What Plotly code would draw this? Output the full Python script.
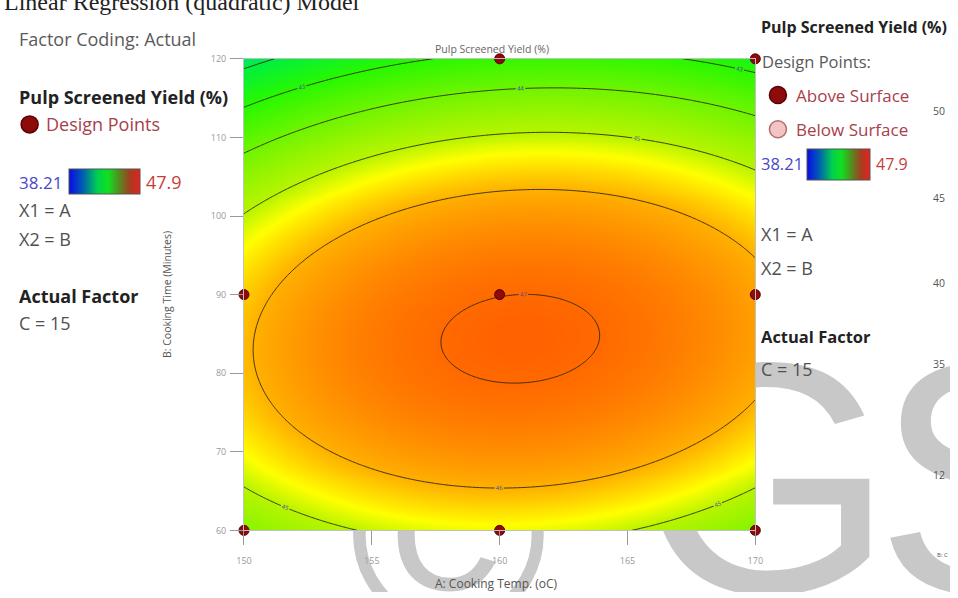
import numpy as np
import plotly.graph_objects as go

# ---------------- values ----------------
temp_ticks = [150, 155, 160, 165, 170]            # A: Cooking Temp. (oC)
time_ticks = [60, 70, 80, 90, 100, 110, 120]      # B: Cooking Time (Minutes)
# quadratic response surface (coded units) at C = 15
coef_names = ["Intercept", "A", "B", "AB", "A^2", "B^2"]
coef_values = [46.99, 0.21, -1.05, 0.25, -1.01, -2.75]
temp_center, temp_step = 160, 10
time_center, time_step = 90, 30
contour_levels = [42, 43, 44, 45, 46, 47]
design_temp = [150, 160, 170, 150, 160, 170, 160, 170]
design_time = [60, 60, 60, 90, 90, 90, 120, 120]
yield_low, yield_high = 38.21, 47.9
neighbour_ticks = ["50", "45", "40", "35", "12"]

W, H = 958, 598
PX0, PX1, PY0, PY1 = 240, 760, 53, 535   # plot frame in page pixels

def px(x):
    return x / W

def py(y):
    return 1 - y / H

# colour map of the surface (value -> colour)
surface_colors = [
    [0.000, "#0000ff"],
    [0.200, "#0080c0"],
    [0.339, "#00e080"],
    [0.391, "#00f040"],
    [0.494, "#28f800"],
    [0.598, "#70f400"],
    [0.701, "#b8f400"],
    [0.742, "#ffff00"],
    [0.804, "#ffb000"],
    [0.856, "#ff8c00"],
    [0.907, "#ff6a00"],
    [1.000, "#ff2000"],
]
# colour ramp as drawn in the legend boxes
legend_colors = [
    [0.00, "#0a0ae8"],
    [0.20, "#0060b0"],
    [0.40, "#00d050"],
    [0.55, "#10e020"],
    [0.70, "#509020"],
    [0.85, "#a04020"],
    [1.00, "#e82020"],
]

# ---------------- surface ----------------
c = dict(zip(coef_names, coef_values))
A = np.linspace(temp_ticks[0], temp_ticks[-1], 201)
B = np.linspace(time_ticks[0], time_ticks[-1], 241)
AA, BB = np.meshgrid(A, B)
a = (AA - temp_center) / temp_step
b = (BB - time_center) / time_step
Z = (c["Intercept"] + c["A"] * a + c["B"] * b + c["AB"] * a * b
     + c["A^2"] * a ** 2 + c["B^2"] * b ** 2)

fig = go.Figure()

# ---- background (page-pixel) layer: watermark, beneath the plot, clipped to the page ----
fig.add_trace(go.Scatter(
    x=[448, 640, 882], y=[566, 514, 514], mode="text", text=["©", "G", "S"],
    textposition=["middle center", "middle right", "middle right"],
    textfont=dict(size=[270, 330, 330], color="#c8c8c8", family="Liberation Sans"),
    hoverinfo="skip", showlegend=False, xaxis="x", yaxis="y", cliponaxis=True))

# legend markers
fig.add_trace(go.Scatter(
    x=[22, 783, 783], y=[120, 90, 125], mode="markers",
    marker=dict(size=17, color=["#8e0b0b", "#8e0b0b", "#f4c4c4"],
                line=dict(color=["#5a0000", "#5a0000", "#b07070"], width=1.5)),
    hoverinfo="skip", showlegend=False, xaxis="x", yaxis="y"))

# two colour ramps in the legend panels
for cx, cy, ln, th in [(62, 166, 71, 25), (813, 145, 63, 31)]:
    fig.add_trace(go.Scatter(
        x=[100, 100], y=[100, 100], mode="markers",
        marker=dict(size=0, opacity=0, color=[yield_low, yield_high],
                    colorscale=legend_colors, cmin=yield_low, cmax=yield_high,
                    showscale=True,
                    colorbar=dict(orientation="h", x=px(cx), y=py(cy),
                                  xanchor="left", yanchor="top",
                                  len=ln, lenmode="pixels", thickness=th,
                                  xpad=0, ypad=0, outlinewidth=1,
                                  outlinecolor="#555", showticklabels=False,
                                  ticks="")),
        hoverinfo="skip", showlegend=False, xaxis="x", yaxis="y"))

# ---- main contour plot ----
fig.add_trace(go.Contour(
    x=A, y=B, z=Z, xaxis="x2", yaxis="y2",
    colorscale=surface_colors, zmin=yield_low, zmax=yield_high, showscale=False,
    contours=dict(start=contour_levels[0], end=contour_levels[-1], size=1,
                  coloring="heatmap", showlabels=True,
                  labelfont=dict(size=6, color="#4a4aa0")),
    line=dict(color="rgba(50,40,15,0.9)", width=1),
    hoverinfo="skip"))

fig.add_trace(go.Scatter(
    x=design_temp, y=design_time, mode="markers", xaxis="x2", yaxis="y2",
    marker=dict(size=10, color="#8e0b0b", line=dict(color="#5a0000", width=1)),
    cliponaxis=False, hoverinfo="skip", showlegend=False))

tickfont = dict(size=9, color="#999", family="Open Sans")
fig.update_layout(
    width=W, height=H, margin=dict(l=0, r=0, t=0, b=0),
    paper_bgcolor="white", plot_bgcolor="white", showlegend=False,
    xaxis=dict(domain=[0, 1], range=[0, W], visible=False, fixedrange=True),
    yaxis=dict(domain=[0, 1], range=[H, 0], visible=False, fixedrange=True),
    xaxis2=dict(domain=[px(PX0), px(PX1)], anchor="y2", range=[150, 170],
                tickvals=temp_ticks, ticks="outside", ticklen=14,
                ticklabelstandoff=8,
                tickcolor="#999", tickfont=tickfont, showgrid=False,
                zeroline=False, showline=True, linecolor="#c0c0c0",
                mirror=True),
    yaxis2=dict(domain=[py(PY1), py(PY0)], anchor="x2", range=[60, 120],
                tickvals=time_ticks, ticks="outside", ticklen=13,
                ticklabelstandoff=2,
                tickcolor="#999", tickfont=tickfont, showgrid=False,
                zeroline=False, showline=True, linecolor="#c0c0c0",
                mirror=True),
)

F = "Open Sans"
def txt(x, y, s, size=14, color="#505050", bold=False, anchor="left", **kw):
    fig.add_annotation(x=px(x), y=py(y), xref="paper", yref="paper",
                       text=f"<b>{s}</b>" if bold else s,
                       showarrow=False, xanchor=anchor, yanchor="middle",
                       font=dict(size=size, color=color, family=F), **kw)

# top cut-off caption line (only its lower edge shows on the page)
fig.add_annotation(x=px(-6), y=py(10), xref="paper", yref="paper",
                   text="Linear Regression (quadratic) Model",
                   showarrow=False, xanchor="left", yanchor="bottom",
                   font=dict(size=24, color="#222", family="Liberation Serif"))

# left panel
txt(9, 33, "Factor Coding: Actual", 18, "#5a5a5a")
txt(9, 92, "Pulp Screened Yield (%)", 18, "#222", True)
txt(37, 120, "Design Points", 18, "#a8404c")
txt(9, 179, "38.21", 17, "#4848c8")
txt(138, 179, "47.9", 18, "#c83c3c")
txt(9, 208, "X1 = A", 18, "#505050")
txt(9, 237, "X2 = B", 18, "#505050")
txt(9, 295, "Actual Factor", 18, "#222", True)
txt(9, 323, "C = 15", 18, "#505050")

# right panel
txt(764, 20, "Pulp Screened Yield (%)", 16, "#222", True)
txt(765, 56, "Design Points:", 16.5, "#5a5a5a")
txt(799, 90, "Above Surface", 17, "#a8404c")
txt(799, 125, "Below Surface", 17, "#a8404c")
txt(764, 160, "38.21", 16.5, "#4848c8")
txt(881, 160, "47.9", 16, "#c83c3c")
txt(764, 232, "X1 = A", 18, "#505050")
txt(764, 267, "X2 = B", 18, "#505050")
txt(764, 337, "Actual Factor", 16.5, "#222", True)
txt(764, 370, "C = 15", 18, "#505050")

# neighbouring chart fragments at the far right
for s, yy in zip(neighbour_ticks, [106, 195, 282, 365, 478]):
    txt(939, yy, s, 10.5, "#555")
txt(943, 560, "B: C", 6, "#555")

# plot titles
txt(492, 43, "Pulp Screened Yield (%)", 10.5, "#666", anchor="center")
txt(497, 589, "A: Cooking Temp. (oC)", 12, "#555", anchor="center")
fig.add_annotation(x=px(152), y=py(294), xref="paper", yref="paper",
                   text="B: Cooking Time (Minutes)",
                   showarrow=False, textangle=-90,
                   font=dict(size=10.5, color="#555", family=F))

fig.write_html("out.html", config={"displayModeBar": False},
               post_script="document.body.style.margin='0';")
